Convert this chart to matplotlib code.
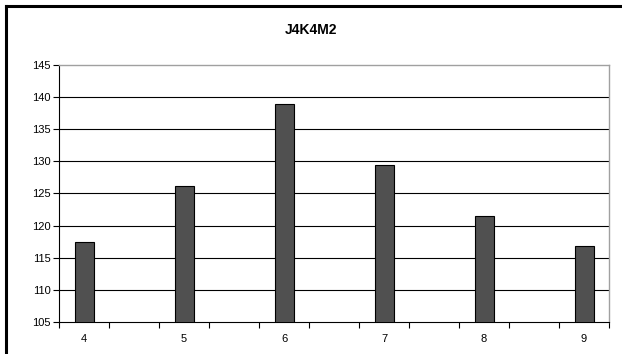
import matplotlib
matplotlib.use("Agg")
import matplotlib.pyplot as plt
from matplotlib.lines import Line2D
import numpy as np

# Data
categories = ["4", "5", "6", "7", "8", "9"]
values = [117.4, 126.2, 138.9, 129.4, 121.5, 116.9]
y_ticks = [105, 110, 115, 120, 125, 130, 135, 140, 145]
title = "J4K4M2"

plt.rcParams["font.family"] = ["Liberation Sans", "DejaVu Sans"]

fig = plt.figure(figsize=(6.22, 3.54), dpi=100)
ax = fig.add_axes([59 / 622, 1 - 322 / 354, 550 / 622, 257 / 354])

# Each category occupies every other slot on an 11-slot axis
pos = np.arange(len(categories)) * 2
ax.bar(pos, values, width=0.38, bottom=0, color="#505050",
       edgecolor="black", linewidth=0.8, zorder=3)

ax.set_xlim(-0.5, 2 * (len(categories) - 1) + 0.5)
ax.set_ylim(y_ticks[0], y_ticks[-1])
ax.set_yticks(y_ticks)
ax.set_yticklabels([str(t) for t in y_ticks])

ax.set_xticks(pos)
ax.set_xticklabels(categories)
ax.set_xticks(np.arange(-0.5, 2 * (len(categories) - 1) + 1.0, 1.0), minor=True)
ax.tick_params(axis="x", which="major", length=0, pad=9, labelsize=8)
ax.tick_params(axis="x", which="minor", length=4, width=0.8, direction="out",
               color="black")
ax.tick_params(axis="y", length=4, width=0.8, direction="out", pad=2,
               labelsize=8, color="black")

# Horizontal gridlines
for t in y_ticks[1:-1]:
    ax.axhline(t, color="black", linewidth=0.8, zorder=1)

for side in ("top", "right"):
    ax.spines[side].set_color("#a0a0a0")
    ax.spines[side].set_linewidth(1.0)
for side in ("left", "bottom"):
    ax.spines[side].set_color("black")
    ax.spines[side].set_linewidth(0.8)

fig.text(0.5, 1 - 30 / 354, title, ha="center", va="center",
         fontsize=10, fontweight="bold")

# Chart frame (left and top edges)
fig.add_artist(Line2D([5.5 / 622, 5.5 / 622], [0, 1 - 6 / 354],
                      transform=fig.transFigure, color="black", linewidth=2.2))
fig.add_artist(Line2D([5.5 / 622, 1], [1 - 6 / 354, 1 - 6 / 354],
                      transform=fig.transFigure, color="black", linewidth=2.2))

fig.savefig("out.png", dpi=100)
